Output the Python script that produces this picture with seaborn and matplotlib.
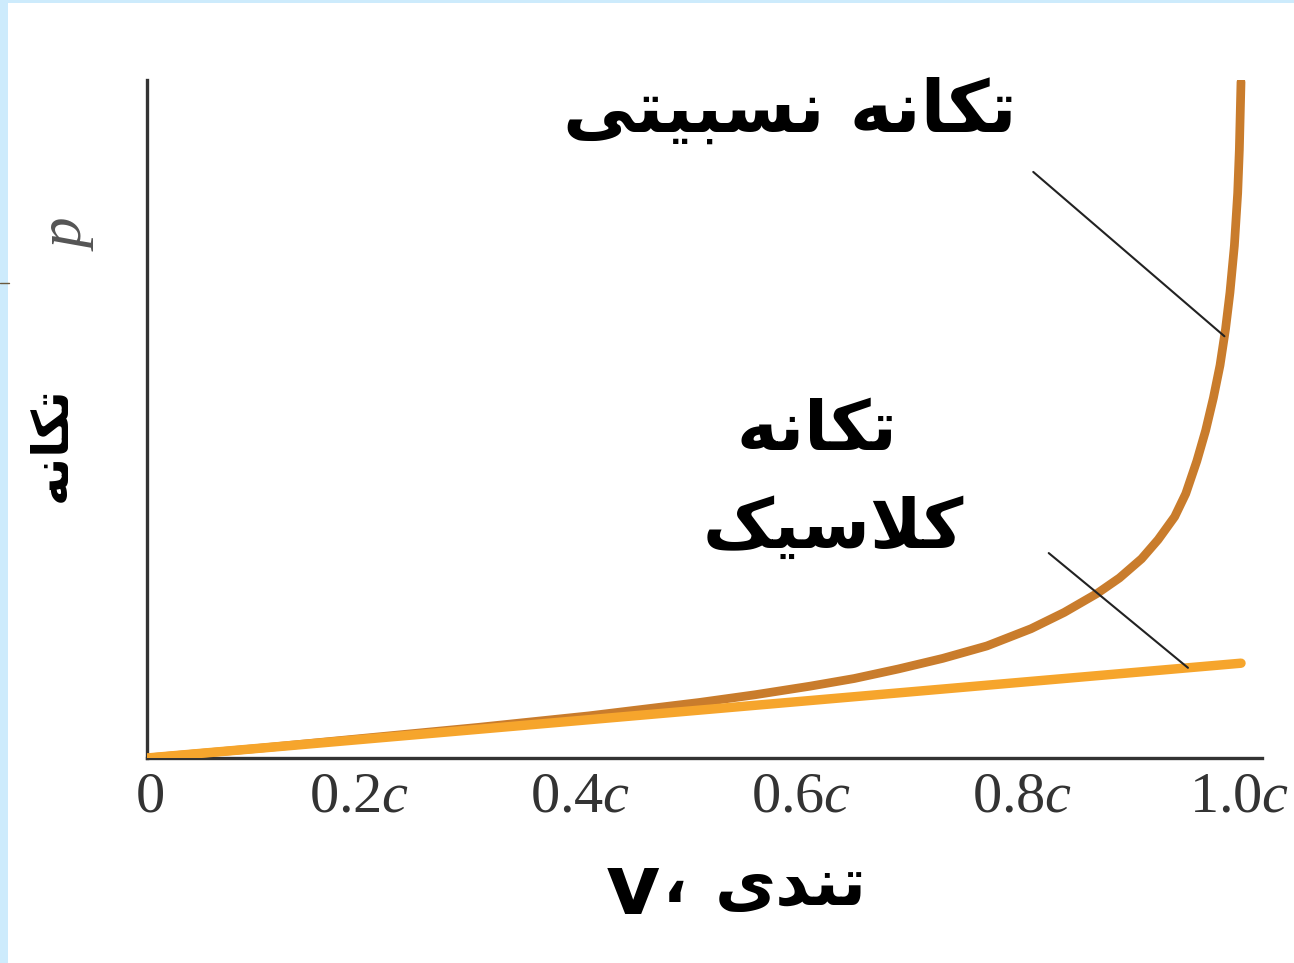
import matplotlib
matplotlib.use("Agg")
import matplotlib.pyplot as plt
import matplotlib.transforms as mtransforms
from matplotlib.patches import Rectangle
from matplotlib.lines import Line2D
import numpy as np
import seaborn as sns

# Relativistic momentum (in units of m*c) against speed (fraction of c)
speed_rel = [0.0, 0.1, 0.2, 0.3, 0.4, 0.5, 0.55, 0.6, 0.64, 0.68, 0.72, 0.76,
             0.8, 0.83, 0.86, 0.88, 0.9, 0.915, 0.93, 0.94, 0.95, 0.958,
             0.965, 0.971, 0.976, 0.98, 0.984, 0.987, 0.9885, 0.99]
momentum_rel = [0.0, 0.10, 0.21, 0.32, 0.44, 0.58, 0.66, 0.75, 0.83, 0.93,
                1.04, 1.17, 1.35, 1.52, 1.72, 1.88, 2.08, 2.28, 2.52, 2.76,
                3.10, 3.42, 3.76, 4.10, 4.48, 4.86, 5.35, 5.90, 6.35, 7.06]

# Classical momentum p = m*v
speed_cls = [0.0, 0.99]
momentum_cls = [0.0, 0.99]

tick_values = [0.0, 0.2, 0.4, 0.6, 0.8, 1.0]
tick_labels = ["0", r"0.2$c$", r"0.4$c$", r"0.6$c$", r"0.8$c$", r"1.0$c$"]

label_rel = "تکانه نسبیتی"
label_cls_top = "تکانه"
label_cls_bottom = "کلاسیک"
label_y = "تکانه"
label_x_word = "تندی"
label_x_comma = "\u060C"
label_x_symbol = "v"
label_p = "p"

# speeds where the leader lines touch each curve
pointer_rel_speed = 0.975
pointer_cls_speed = 0.942

COLOR_REL = "#C97C2C"
COLOR_CLS = "#F6A52C"
INK = "#333333"

# Contextual forms (isolated, final, initial, medial) for the letters used
_FORMS = {
    "\u062A": ("\uFE95", "\uFE96", "\uFE97", "\uFE98"),  # teh
    "\u06A9": ("\uFB8E", "\uFB8F", "\uFB90", "\uFB91"),  # keheh
    "\u0627": ("\uFE8D", "\uFE8E", None, None),          # alef
    "\u0646": ("\uFEE5", "\uFEE6", "\uFEE7", "\uFEE8"),  # noon
    "\u0647": ("\uFEE9", "\uFEEA", "\uFEEB", "\uFEEC"),  # heh
    "\u0633": ("\uFEB1", "\uFEB2", "\uFEB3", "\uFEB4"),  # seen
    "\u0628": ("\uFE8F", "\uFE90", "\uFE91", "\uFE92"),  # beh
    "\u06CC": ("\uFBFC", "\uFBFD", "\uFBFE", "\uFBFF"),  # farsi yeh
    "\u0644": ("\uFEDD", "\uFEDE", "\uFEDF", "\uFEE0"),  # lam
    "\u062F": ("\uFEA9", "\uFEAA", None, None),          # dal
}
_LAM_ALEF = ("\uFEFB", "\uFEFC")


def _joins_forward(ch):
    f = _FORMS.get(ch)
    return f is not None and f[2] is not None


def shape_rtl(text):
    """Join Persian letters and return them in left-to-right drawing order."""
    chars = list(text)
    n = len(chars)
    out = []
    i = 0
    while i < n:
        c = chars[i]
        if c not in _FORMS:
            out.append(c)
            i += 1
            continue
        jp = i > 0 and _joins_forward(chars[i - 1])
        if c == "\u0644" and i + 1 < n and chars[i + 1] == "\u0627":
            out.append(_LAM_ALEF[1] if jp else _LAM_ALEF[0])
            i += 2
            continue
        jn = _joins_forward(c) and i + 1 < n and chars[i + 1] in _FORMS
        iso, fin, ini, med = _FORMS[c]
        if jp and jn:
            g = med
        elif jp:
            g = fin
        elif jn:
            g = ini
        else:
            g = iso
        out.append(g)
        i += 1
    return "".join(reversed(out))


sns.set_theme(style="white")
plt.rcParams["font.family"] = ["DejaVu Sans"]
plt.rcParams["mathtext.fontset"] = "custom"
plt.rcParams["mathtext.rm"] = "Liberation Serif"
plt.rcParams["mathtext.it"] = "Liberation Serif:italic"

W, H = 1294, 963
fig = plt.figure(figsize=(W / 100, H / 100), dpi=100)
fig.patch.set_facecolor("#CDEBFC")
fig.add_artist(Rectangle((8 / W, 0), 1 - 8 / W, 1 - 3 / H,
                         transform=fig.transFigure, facecolor="white",
                         edgecolor="none", zorder=-10))
fig.add_artist(Line2D([0, 9 / W], [1 - 283 / H] * 2, transform=fig.transFigure,
                      color="#6b5a3e", lw=1.0))


def fx(x):
    return x / W


def fy(y):
    return 1 - y / H


ax = fig.add_axes([fx(147), fy(758), (1262 - 147) / W, (758 - 80) / H])
ax.set_facecolor("none")

sns.lineplot(x=speed_rel, y=momentum_rel, ax=ax, color=COLOR_REL, linewidth=6.3,
             sort=False, estimator=None, solid_capstyle="round",
             solid_joinstyle="round", zorder=3)
sns.lineplot(x=speed_cls, y=momentum_cls, ax=ax, color=COLOR_CLS, linewidth=6.8,
             sort=False, estimator=None, solid_capstyle="round", zorder=4)

ax.set_xlim(0, 1.009)
ax.set_ylim(0, 7.08)
ax.set_xlabel("")
ax.set_ylabel("")

for side in ("top", "right"):
    ax.spines[side].set_visible(False)
for side in ("left", "bottom"):
    ax.spines[side].set_color(INK)
    ax.spines[side].set_linewidth(2.4)

ax.set_xticks(tick_values)
ax.set_xticklabels(tick_labels, fontfamily="Liberation Serif")
ax.set_yticks([])
ax.tick_params(axis="x", direction="in", length=18, width=1.6, color=INK,
               labelsize=42, labelcolor=INK, pad=10)
ax.xaxis.get_major_ticks()[0].tick1line.set_visible(False)

# nudge the tick labels: the "c" suffix sits to the right of the tick
for k, lab in enumerate(ax.get_xticklabels()):
    dx = 3 if k == 0 else (-13 if k == len(tick_values) - 1 else -9)
    lab.set_transform(lab.get_transform()
                      + mtransforms.ScaledTranslation(dx / 100, 0, fig.dpi_scale_trans))

# leader lines from the labels to the curves
p_rel = np.interp(pointer_rel_speed, speed_rel, momentum_rel)
p_cls = np.interp(pointer_cls_speed, speed_cls, momentum_cls)
ax.annotate("", xy=(pointer_rel_speed, p_rel), xytext=(0.802, 6.12),
            arrowprops=dict(arrowstyle="-", color="#222222", lw=1.5,
                            shrinkA=0, shrinkB=0), zorder=5)
ax.annotate("", xy=(pointer_cls_speed, p_cls), xytext=(0.816, 2.14),
            arrowprops=dict(arrowstyle="-", color="#222222", lw=1.5,
                            shrinkA=0, shrinkB=0), zorder=5)

bold = dict(fontweight="bold", color="black", va="center",
            family=["DejaVu Sans"])
fig.text(fx(790), fy(112), shape_rtl(label_rel), fontsize=52, ha="center", **bold)
fig.text(fx(817), fy(430), shape_rtl(label_cls_top), fontsize=50, ha="center", **bold)
fig.text(fx(833), fy(528), shape_rtl(label_cls_bottom), fontsize=50, ha="center", **bold)
fig.text(fx(52), fy(444), shape_rtl(label_y), fontsize=36, rotation=90,
         ha="center", **bold)

# axis title: speed, v
fig.text(fx(660), fy(890), label_x_symbol, fontsize=60, ha="right", **bold)
fig.text(fx(675), fy(884), label_x_comma, fontsize=46, ha="center", **bold)
fig.text(fx(867), fy(886), shape_rtl(label_x_word), fontsize=48, ha="right", **bold)

fig.text(fx(70), fy(236), label_p, fontsize=44, rotation=90, color="#555555",
         family="Liberation Serif", style="italic", ha="center", va="center")

fig.savefig("out.png", dpi=100)
